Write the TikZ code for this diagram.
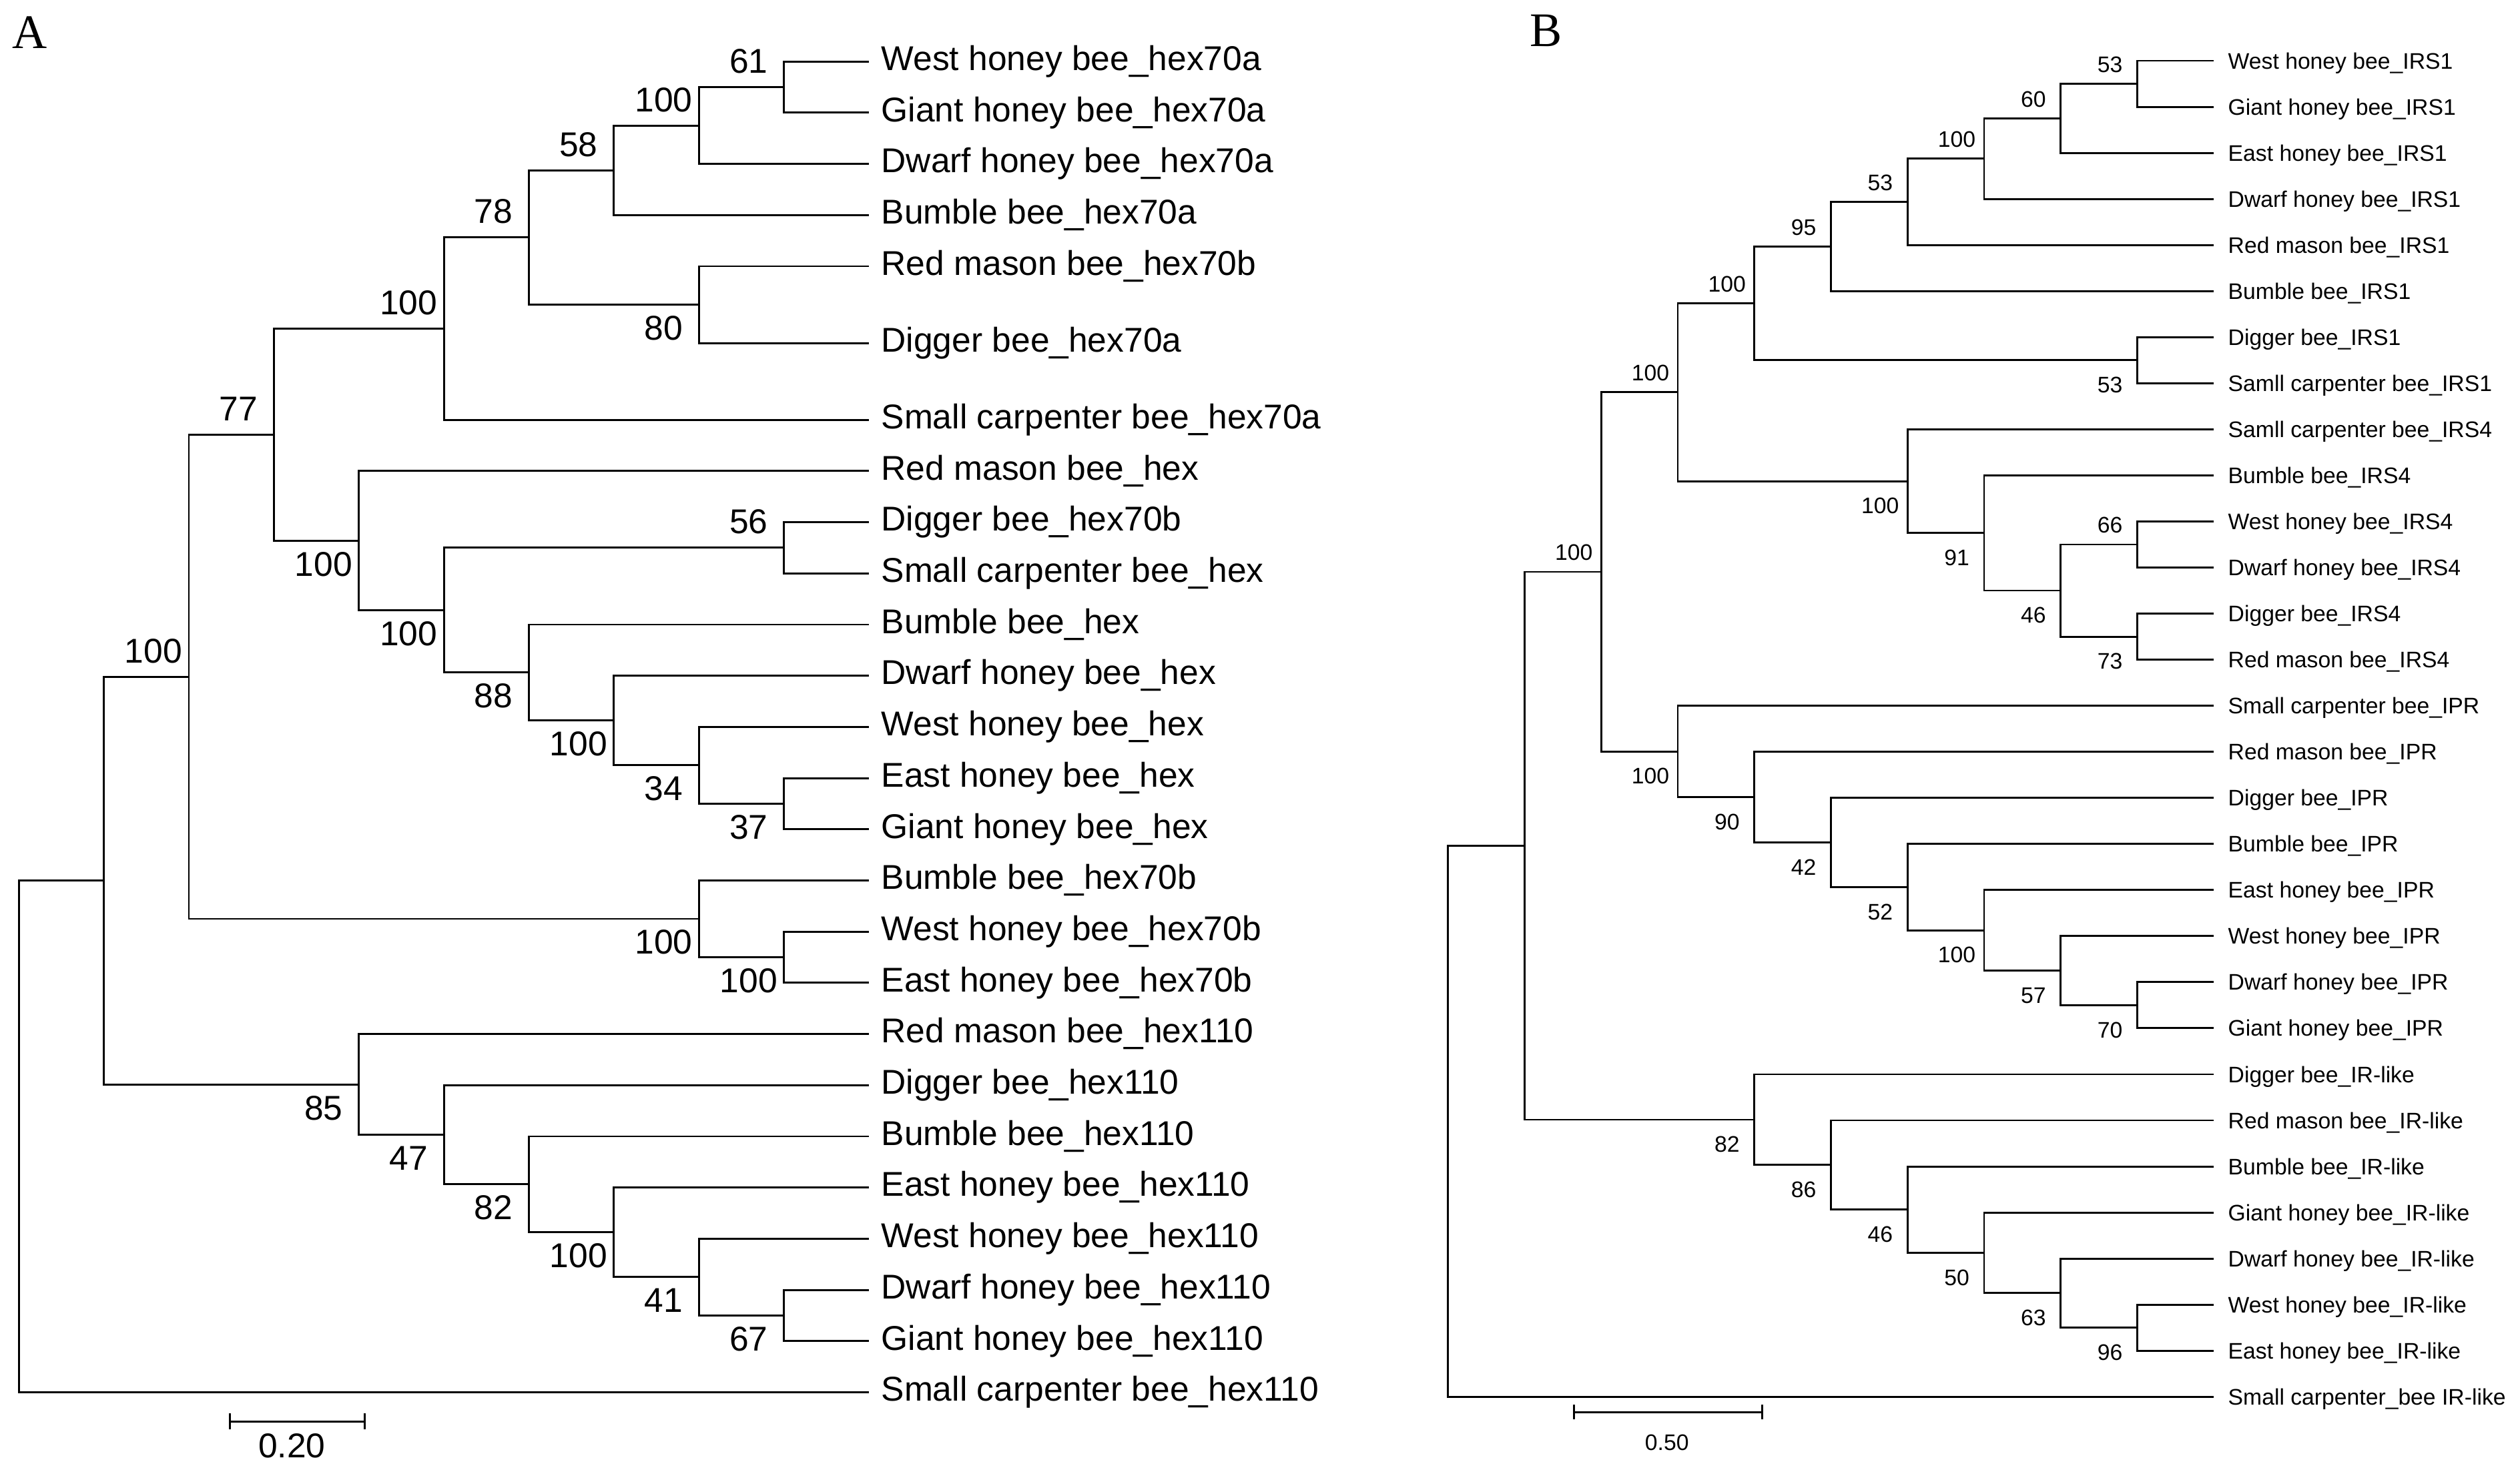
\documentclass[tikz,border=0pt]{standalone}
\usepackage{fontspec}
\setmainfont{Liberation Sans}
\newfontfamily\panelfont{Liberation Serif}
\usetikzlibrary{arrows.meta}
\usetikzlibrary{calc}

\newcommand{\fontA}{\fontsize{10.7}{12}\selectfont}
\newcommand{\fontB}{\fontsize{7.0}{8}\selectfont}

% clade: name, x level, upper child, lower child, support value, label style
\newcommand{\clade}[6]{%
  \coordinate (mid) at ($(#3)!0.5!(#4)$);
  \coordinate (#1) at (#2 |- mid);
  \draw[branch] (#3) -| (#1) |- (#4);
  \node[#6] (bs#1) at (#1) {#5};
}
% same, no support value
\newcommand{\joint}[4]{%
  \coordinate (mid) at ($(#3)!0.5!(#4)$);
  \coordinate (#1) at (#2 |- mid);
  \draw[branch] (#3) -| (#1) |- (#4);
}

\tikzset{
  branch/.style={line width=0.6pt, black},
  leafA/.style={anchor=base west, inner sep=0pt, xshift=3.65pt, yshift=-2.75pt, font=\fontA},
  leafB/.style={anchor=base west, inner sep=0pt, xshift=4.25pt, yshift=-2.5pt, font=\fontB},
  upA/.style={anchor=base, inner sep=0pt, xshift=-11pt, yshift=4.35pt, font=\fontA},
  downA/.style={anchor=base, inner sep=0pt, xshift=-11pt, yshift=-11pt, font=\fontA},
  upB/.style={anchor=base, inner sep=0pt, xshift=-8.5pt, yshift=3.55pt, font=\fontB},
  downB/.style={anchor=base, inner sep=0pt, xshift=-8.5pt, yshift=-10.1pt, font=\fontB},
}

\begin{document}
\begin{tikzpicture}[x=0.5pt, y=-0.5pt,
    panel/.style={anchor=base west, inner sep=0pt, font={\panelfont\fontsize{15}{18}\selectfont}},
    scalebar/.style={line width=0.6pt, {Bar[width=5pt]}-{Bar[width=5pt]}}]

  \useasboundingbox (0,0) rectangle (1568,911);

  % panel letters
  \node[panel] (panA) at (7.4,30.2) {A};
  \node[panel] (panB) at (951.5,28.9) {B};

  % x levels of both trees
  \foreach \k in {0,...,10}
  {
    \coordinate (xA\k) at ({11.7+52.9*\k},0);
    \coordinate (xB\k) at ({901+47.65*\k},0);
  }

  % ---- tree A: leaves (index / row slot / name)
  \foreach \i/\s/\txt in {1/0/West honey bee\_hex70a, 2/1/Giant honey bee\_hex70a,
      3/2/Dwarf honey bee\_hex70a, 4/3/Bumble bee\_hex70a, 5/4/Red mason bee\_hex70b,
      6/5.5/Digger bee\_hex70a, 7/7/Small carpenter bee\_hex70a, 8/8/Red mason bee\_hex,
      9/9/Digger bee\_hex70b, 10/10/Small carpenter bee\_hex, 11/11/Bumble bee\_hex,
      12/12/Dwarf honey bee\_hex, 13/13/West honey bee\_hex, 14/14/East honey bee\_hex,
      15/15/Giant honey bee\_hex, 16/16/Bumble bee\_hex70b, 17/17/West honey bee\_hex70b,
      18/18/East honey bee\_hex70b, 19/19/Red mason bee\_hex110, 20/20/Digger bee\_hex110,
      21/21/Bumble bee\_hex110, 22/22/East honey bee\_hex110, 23/23/West honey bee\_hex110,
      24/24/Dwarf honey bee\_hex110, 25/25/Giant honey bee\_hex110, 26/26/Small carpenter bee\_hex110}
  {
    \coordinate (a\i) at (540.7,{38.3+31.85*\s});
    \node[leafA] (la\i) at (a\i) {\txt};
  }

  % tree A: clades
  \clade{nA61}{xA9}{a1}{a2}{61}{upA}
  \clade{nA100a}{xA8}{nA61}{a3}{100}{upA}
  \clade{nA58}{xA7}{nA100a}{a4}{58}{upA}
  \clade{nA80}{xA8}{a5}{a6}{80}{downA}
  \clade{nA78}{xA6}{nA58}{nA80}{78}{upA}
  \clade{nA100b}{xA5}{nA78}{a7}{100}{upA}
  \clade{nA56}{xA9}{a9}{a10}{56}{upA}
  \clade{nA37}{xA9}{a14}{a15}{37}{downA}
  \clade{nA34}{xA8}{a13}{nA37}{34}{downA}
  \clade{nA100c}{xA7}{a12}{nA34}{100}{downA}
  \clade{nA88}{xA6}{a11}{nA100c}{88}{downA}
  \clade{nA100d}{xA5}{nA56}{nA88}{100}{downA}
  \clade{nA100e}{xA4}{a8}{nA100d}{100}{downA}
  \clade{nA77}{xA3}{nA100b}{nA100e}{77}{upA}
  \clade{nA100f}{xA9}{a17}{a18}{100}{downA}
  \clade{nA100g}{xA8}{a16}{nA100f}{100}{downA}
  \clade{nA100h}{xA2}{nA77}{nA100g}{100}{upA}
  \clade{nA67}{xA9}{a24}{a25}{67}{downA}
  \clade{nA41}{xA8}{a23}{nA67}{41}{downA}
  \clade{nA100i}{xA7}{a22}{nA41}{100}{downA}
  \clade{nA82}{xA6}{a21}{nA100i}{82}{downA}
  \clade{nA47}{xA5}{a20}{nA82}{47}{downA}
  \clade{nA85}{xA4}{a19}{nA47}{85}{downA}
  \joint{nA1}{xA1}{nA100h}{nA85}
  \joint{rootA}{xA0}{nA1}{a26}

  % tree A: scale bar
  \coordinate (sbA0) at (142.6,884.6);
  \coordinate (sbA1) at (227.7,884.6);
  \draw[scalebar] (sbA0) -- (sbA1);
  \node[anchor=base, inner sep=0pt, font=\fontA] (sbAlab) at ($(sbA0)!0.5!(sbA1)+(-3.5,22.4)$) {0.20};

  % ---- tree B: leaves (evenly spaced)
  \foreach \i/\txt in {1/West honey bee\_IRS1, 2/Giant honey bee\_IRS1, 3/East honey bee\_IRS1,
      4/Dwarf honey bee\_IRS1, 5/Red mason bee\_IRS1, 6/Bumble bee\_IRS1, 7/Digger bee\_IRS1,
      8/Samll carpenter bee\_IRS1, 9/Samll carpenter bee\_IRS4, 10/Bumble bee\_IRS4,
      11/West honey bee\_IRS4, 12/Dwarf honey bee\_IRS4, 13/Digger bee\_IRS4, 14/Red mason bee\_IRS4,
      15/Small carpenter bee\_IPR, 16/Red mason bee\_IPR, 17/Digger bee\_IPR, 18/Bumble bee\_IPR,
      19/East honey bee\_IPR, 20/West honey bee\_IPR, 21/Dwarf honey bee\_IPR, 22/Giant honey bee\_IPR,
      23/Digger bee\_IR-like, 24/Red mason bee\_IR-like, 25/Bumble bee\_IR-like,
      26/Giant honey bee\_IR-like, 27/Dwarf honey bee\_IR-like, 28/West honey bee\_IR-like,
      29/East honey bee\_IR-like, 30/Small carpenter\_bee IR-like}
  {
    \coordinate (b\i) at (1377.5,{37.8+28.67*(\i-1)});
    \node[leafB] (lb\i) at (b\i) {\txt};
  }

  % tree B: clades
  \clade{nB53a}{xB9}{b1}{b2}{53}{upB}
  \clade{nB60}{xB8}{nB53a}{b3}{60}{upB}
  \clade{nB100a}{xB7}{nB60}{b4}{100}{upB}
  \clade{nB53b}{xB6}{nB100a}{b5}{53}{upB}
  \clade{nB95}{xB5}{nB53b}{b6}{95}{upB}
  \clade{nB53c}{xB9}{b7}{b8}{53}{downB}
  \clade{nB100b}{xB4}{nB95}{nB53c}{100}{upB}
  \clade{nB66}{xB9}{b11}{b12}{66}{upB}
  \clade{nB73}{xB9}{b13}{b14}{73}{downB}
  \clade{nB46a}{xB8}{nB66}{nB73}{46}{downB}
  \clade{nB91}{xB7}{b10}{nB46a}{91}{downB}
  \clade{nB100c}{xB6}{b9}{nB91}{100}{downB}
  \clade{nB100d}{xB3}{nB100b}{nB100c}{100}{upB}
  \clade{nB70}{xB9}{b21}{b22}{70}{downB}
  \clade{nB57}{xB8}{b20}{nB70}{57}{downB}
  \clade{nB100e}{xB7}{b19}{nB57}{100}{downB}
  \clade{nB52}{xB6}{b18}{nB100e}{52}{downB}
  \clade{nB42}{xB5}{b17}{nB52}{42}{downB}
  \clade{nB90}{xB4}{b16}{nB42}{90}{downB}
  \clade{nB100f}{xB3}{b15}{nB90}{100}{downB}
  \clade{nB100g}{xB2}{nB100d}{nB100f}{100}{upB}
  \clade{nB96}{xB9}{b28}{b29}{96}{downB}
  \clade{nB63}{xB8}{b27}{nB96}{63}{downB}
  \clade{nB50}{xB7}{b26}{nB63}{50}{downB}
  \clade{nB46b}{xB6}{b25}{nB50}{46}{downB}
  \clade{nB86}{xB5}{b24}{nB46b}{86}{downB}
  \clade{nB82}{xB4}{b23}{nB86}{82}{downB}
  \joint{nB1}{xB1}{nB100g}{nB82}
  \joint{rootB}{xB0}{nB1}{b30}

  % tree B: scale bar
  \coordinate (sbB0) at (978.6,878.7);
  \coordinate (sbB1) at (1097.2,878.7);
  \draw[scalebar, {Bar[width=4.6pt]}-{Bar[width=4.6pt]}] (sbB0) -- (sbB1);
  \node[anchor=base, inner sep=0pt, font=\fontB] (sbBlab) at ($(sbB0)!0.5!(sbB1)+(-0.7,23.9)$) {0.50};

\end{tikzpicture}
\end{document}
